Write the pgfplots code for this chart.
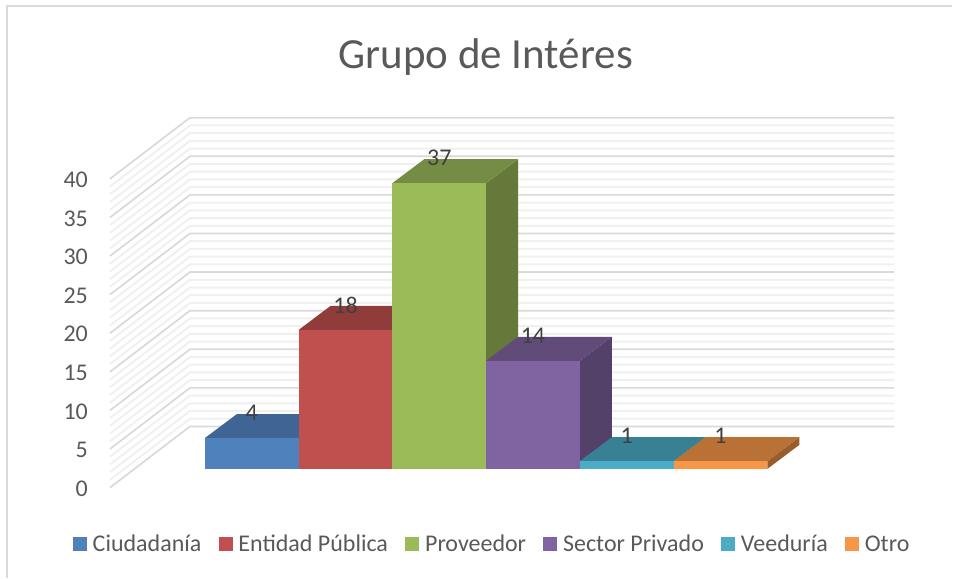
\documentclass[border=0pt]{standalone}
\usepackage{pgfplots}
\pgfplotsset{compat=1.18}
\usepackage{fontspec}
\setmainfont{Carlito}
\definecolor{txt}{HTML}{595959}
\definecolor{lab}{HTML}{404040}
\definecolor{gmaj}{HTML}{D9D9D9}
\definecolor{gmin}{HTML}{F0F0F0}
\definecolor{cblue}{HTML}{4F81BD}
\definecolor{cred}{HTML}{C0504D}
\definecolor{cgreen}{HTML}{9BBB59}
\definecolor{cpurple}{HTML}{8064A2}
\definecolor{cteal}{HTML}{4BACC6}
\definecolor{corange}{HTML}{F79646}
\newcommand{\fs}{\fontsize{24}{28}\selectfont}
\begin{document}
\begin{tikzpicture}
% ---- walls, in pixels across and real values upward
\begin{axis}[
  at={(0pt,0pt)},anchor=south west,
  scale only axis,width=953pt,height=578pt,
  xmin=0,xmax=953,ymin=-11.65,ymax=63.17,
  axis line style={draw=none},
  major tick length=0pt,
  xtick=\empty,
  ytick={0,5,...,40},
  /pgf/number format/assume math mode=true,
  yticklabel style={font=\fs,text=txt,xshift=88pt,yshift=-1pt,inner sep=0pt},
  clip=false,
  title={Grupo de Intéres},
  title style={at={(0.51,0.89)},anchor=center,font=\fontsize{43}{50}\selectfont,text=txt},
]
\addplot[gmaj,line width=1.4pt] coordinates {(7,-11.65) (7,62.4) (953,62.4)};
\pgfplotsforeachungrouped \v in {1,2,3,4,6,7,8,9,11,12,13,14,16,17,18,19,21,22,23,24,26,27,28,29,31,32,33,34,36,37,38,39}{%
  \pgfmathsetmacro\b{\v+7.92}%
  \edef\temp{\noexpand\addplot[gmin,line width=2pt] coordinates {(110,\v) (190,\b) (895,\b)};}%
  \temp
}
\pgfplotsforeachungrouped \v in {0,5,...,40}{%
  \pgfmathsetmacro\b{\v+7.92}%
  \edef\temp{\noexpand\addplot[gmaj,line width=1.7pt] coordinates {(110,\v) (190,\b) (895,\b)};}%
  \temp
}
\end{axis}
% ---- bars: x in bar widths, y in values; depth offset 0.341 and 3.105
\begin{axis}[
  at={(0pt,0pt)},anchor=south west,
  scale only axis,width=953pt,height=578pt,
  xmin=-2.1855,xmax=7.974,ymin=-14.06,ymax=60.71,
  axis lines=none,
  clip=false,
  /pgf/number format/assume math mode=true,
  legend columns=6,
  legend cell align=left,
  legend style={draw=none,fill=none,inner sep=0pt,outer sep=0pt,
    at={(axis cs:-1.407,-9.66)},anchor=west,font=\fs,text=txt,
    nodes={inner sep=0pt},
    /tikz/every even column/.append style={column sep=17.4pt},
    /tikz/every odd column/.append style={column sep=5.7pt}},
  legend image code/.code={\fill[#1] (0pt,-7pt) rectangle (14pt,7pt);},
]
% Ciudadanía
\addplot[fill=cblue!65!black,draw=none,forget plot] coordinates {(1,0) (1.341,3.105) (1.341,7.105) (1,4)} --cycle;
\addplot[fill=cblue!78!black,draw=none,forget plot] coordinates {(0,4) (0.341,7.105) (1.341,7.105) (1,4)} --cycle;
\addplot[ybar,bar width=1,bar shift=0pt,fill=cblue,draw=none] coordinates {(0.5,4)};
\addlegendentry{Ciudadanía}
% Entidad Pública
\addplot[fill=cred!65!black,draw=none,forget plot] coordinates {(2,0) (2.341,3.105) (2.341,21.105) (2,18)} --cycle;
\addplot[fill=cred!75!black,draw=none,forget plot] coordinates {(1,18) (1.341,21.105) (2.341,21.105) (2,18)} --cycle;
\addplot[ybar,bar width=1,bar shift=0pt,fill=cred,draw=none] coordinates {(1.5,18)};
\addlegendentry{Entidad Pública}
% Proveedor
\addplot[fill=cgreen!65!black,draw=none,forget plot] coordinates {(3,0) (3.341,3.105) (3.341,40.105) (3,37)} --cycle;
\addplot[fill=cgreen!75!black,draw=none,forget plot] coordinates {(2,37) (2.341,40.105) (3.341,40.105) (3,37)} --cycle;
\addplot[ybar,bar width=1,bar shift=0pt,fill=cgreen,draw=none] coordinates {(2.5,37)};
\addlegendentry{Proveedor}
% Sector Privado
\addplot[fill=cpurple!65!black,draw=none,forget plot] coordinates {(4,0) (4.341,3.105) (4.341,17.105) (4,14)} --cycle;
\addplot[fill=cpurple!75!black,draw=none,forget plot] coordinates {(3,14) (3.341,17.105) (4.341,17.105) (4,14)} --cycle;
\addplot[ybar,bar width=1,bar shift=0pt,fill=cpurple,draw=none] coordinates {(3.5,14)};
\addlegendentry{Sector Privado}
% Veeduría
\addplot[fill=cteal!65!black,draw=none,forget plot] coordinates {(5,0) (5.341,3.105) (5.341,4.105) (5,1)} --cycle;
\addplot[fill=cteal!75!black,draw=none,forget plot] coordinates {(4,1) (4.341,4.105) (5.341,4.105) (5,1)} --cycle;
\addplot[ybar,bar width=1,bar shift=0pt,fill=cteal,draw=none] coordinates {(4.5,1)};
\addlegendentry{Veeduría}
% Otro
\addplot[fill=corange!62!black,draw=none,forget plot] coordinates {(6,0) (6.341,3.105) (6.341,4.105) (6,1)} --cycle;
\addplot[fill=corange!75!black,draw=none,forget plot] coordinates {(5,1) (5.341,4.105) (6.341,4.105) (6,1)} --cycle;
\addplot[ybar,bar width=1,bar shift=0pt,fill=corange,draw=none] coordinates {(5.5,1)};
\addlegendentry{Otro\vphantom{d}}
% data labels
\addplot[draw=none,mark=none,forget plot,
  nodes near coords,
  every node near coord/.style={anchor=center,yshift=25pt,font=\fs,text=lab,inner sep=0pt}]
  coordinates {(0.5,4) (1.5,18) (2.5,37) (3.5,14) (4.5,1) (5.5,1)};
\end{axis}
\end{tikzpicture}
\end{document}
